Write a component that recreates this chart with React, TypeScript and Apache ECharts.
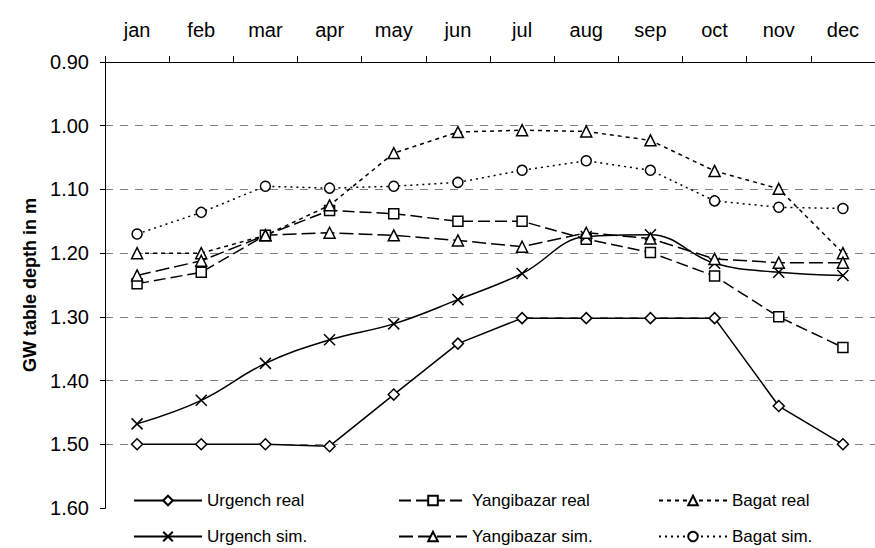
import React, { useEffect, useRef } from "react";
import * as echarts from "echarts";

const months = ["jan", "feb", "mar", "apr", "may", "jun", "jul", "aug", "sep", "oct", "nov", "dec"];
const urgenchReal = [1.5, 1.5, 1.5, 1.503, 1.422, 1.342, 1.302, 1.302, 1.302, 1.302, 1.44, 1.5];
const urgenchSim = [1.468, 1.431, 1.373, 1.336, 1.311, 1.273, 1.232, 1.174, 1.171, 1.216, 1.23, 1.235];
const yangibazarReal = [1.248, 1.23, 1.172, 1.133, 1.138, 1.15, 1.15, 1.178, 1.199, 1.236, 1.3, 1.348];
const yangibazarSim = [1.235, 1.212, 1.172, 1.168, 1.172, 1.18, 1.19, 1.168, 1.177, 1.209, 1.215, 1.215];
const bagatReal = [1.2, 1.2, 1.172, 1.125, 1.043, 1.01, 1.007, 1.009, 1.023, 1.071, 1.099, 1.2];
const bagatSim = [1.17, 1.136, 1.095, 1.098, 1.095, 1.089, 1.07, 1.055, 1.07, 1.118, 1.128, 1.13];
const yMin = 0.9;
const yMax = 1.6;
const yStep = 0.1;
const yName = "GW table depth in m";

const FONT = "'Liberation Sans', Arial, sans-serif";
const CROSS = "path://M0 0L10 10M10 0L0 10";

export default function App() {
  const ref = useRef<HTMLDivElement>(null);
  useEffect(() => {
    if (!ref.current) return;
    const chart = echarts.init(ref.current, null, { renderer: "svg" });
    const hollow = { color: "#fff", borderColor: "#000", borderWidth: 1.5 };
    const mk = (name: string, data: number[], symbol: string, size: number, dash: any, extra: any = {}) => ({
      name,
      type: "line",
      data,
      symbol,
      symbolSize: size,
      itemStyle: symbol === CROSS ? { color: "#000", borderColor: "#000", borderWidth: 1.5 } : hollow,
      lineStyle: { color: "#000", width: 1.5, type: dash },
      z: 2,
      ...extra,
    });
    const legendBase = (name: string, left: number, top: number) => ({
      data: [name],
      left,
      top,
      padding: 0,
      itemWidth: 68,
      itemHeight: 12,
      selectedMode: false,
      textStyle: { fontFamily: FONT, fontSize: 17, color: "#000" },
    });
    chart.setOption({
      animation: false,
      backgroundColor: "#fff",
      grid: { left: 105, top: 62, width: 780, height: 446, containLabel: false },
      xAxis: {
        type: "category",
        position: "top",
        data: months,
        boundaryGap: true,
        axisLine: { show: true, lineStyle: { color: "#000", width: 1 } },
        axisTick: { show: true, length: 6, lineStyle: { color: "#000" } },
        axisLabel: { fontFamily: FONT, fontSize: 20, color: "#000", margin: 22 },
        splitLine: { show: false },
      },
      yAxis: {
        type: "value",
        inverse: true,
        min: yMin,
        max: yMax,
        interval: yStep,
        name: yName,
        nameLocation: "middle",
        nameGap: 50,
        nameTextStyle: { fontFamily: FONT, fontSize: 18, fontWeight: "bold", color: "#000" },
        axisLine: { show: true, lineStyle: { color: "#000", width: 1 } },
        axisTick: { show: true, length: 5, lineStyle: { color: "#000" } },
        axisLabel: {
          fontFamily: FONT,
          fontSize: 20,
          color: "#000",
          margin: 16,
          formatter: (v: number) => v.toFixed(2),
        },
        splitLine: { show: true, lineStyle: { color: "#808080", width: 1, type: [8, 7] } },
      },
      graphic: [
        {
          type: "rect",
          shape: { x: 106, y: 488, width: 780, height: 70 },
          style: { fill: "#fff" },
          z: 3,
          silent: true,
        },
      ],
      legend: [
        legendBase("Urgench real", 133, 492),
        legendBase("Yangibazar real", 398, 492),
        legendBase("Bagat real", 658, 492),
        legendBase("Urgench sim.", 133, 528),
        legendBase("Yangibazar sim.", 398, 528),
        legendBase("Bagat sim.", 658, 528),
      ].map((l) => ({ ...l, z: 5 })),
      series: [
        mk("Urgench real", urgenchReal, "diamond", 11, "solid"),
        mk("Yangibazar real", yangibazarReal, "rect", 10, [12, 5]),
        mk("Bagat real", bagatReal, "triangle", 11, [4, 4]),
        mk("Urgench sim.", urgenchSim, CROSS, 11, "solid", { smooth: 0.4 }),
        mk("Yangibazar sim.", yangibazarSim, "triangle", 11, [14, 5]),
        mk("Bagat sim.", bagatSim, "circle", 10, [2, 4]),
      ],
    });
    return () => chart.dispose();
  }, []);
  return (
    <div
      ref={ref}
      style={{ position: "fixed", left: 0, top: 0, width: 875, height: 548, background: "#fff" }}
    />
  );
}
